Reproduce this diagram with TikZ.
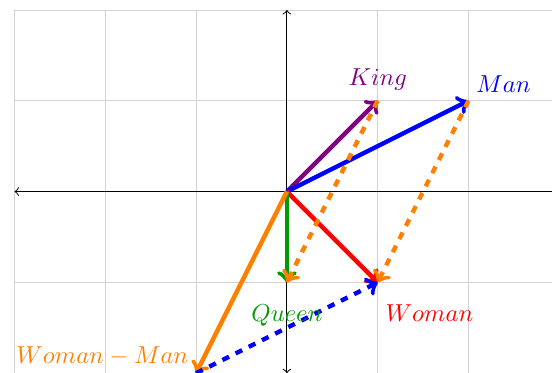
\documentclass[tikz,border=0pt]{standalone}
\usepackage{amsmath}
\usepackage{tikz}
\usetikzlibrary{positioning}

\begin{document}
\begin{tikzpicture}[
    scale=1.3,
    vec/.style={->, line width=1.8pt},
    offset/.style={->, line width=1.8pt, dashed},
    word/.style={inner sep=3pt}]
\useasboundingbox (-3.16,-1.99) rectangle (2.92,2.11);
\draw[gray!35] (-3,-2) grid (3,2);
\draw[<->] (-3,0) -- (3,0);
\draw[<->] (0,-2) -- (0,2);
\coordinate (o) at (0,0);
\coordinate (man) at (2,1);
\coordinate (woman) at (1,-1);
\coordinate (king) at (1,1);
\coordinate (queen) at (0,-1);
\coordinate (diff) at (-1,-2);
% word vectors
\draw[vec, violet] (o) -- (king);
\draw[vec, blue] (o) -- (man);
\draw[vec, red] (o) -- (woman);
\draw[vec, green!60!black] (o) -- (queen);
\draw[vec, orange] (o) -- (diff);
% offsets
\draw[offset, orange] (king) -- (queen);
\draw[offset, orange] (man) -- (woman);
\draw[offset, blue] (diff) -- (woman);
% labels
\node[word, above=1pt of king, violet] (kinglbl) {$King$};
\node[word, above right=0pt of man, blue] (manlbl) {$Man$};
\node[word, below right=6pt and 0pt of woman, red] (womanlbl) {$Woman$};
\node[word, below=6pt of queen, green!60!black] (queenlbl) {$Queen$};
\node[word, above left=0pt and 0pt of diff, orange] (difflbl) {$Woman - Man$};
\end{tikzpicture}
\end{document}
